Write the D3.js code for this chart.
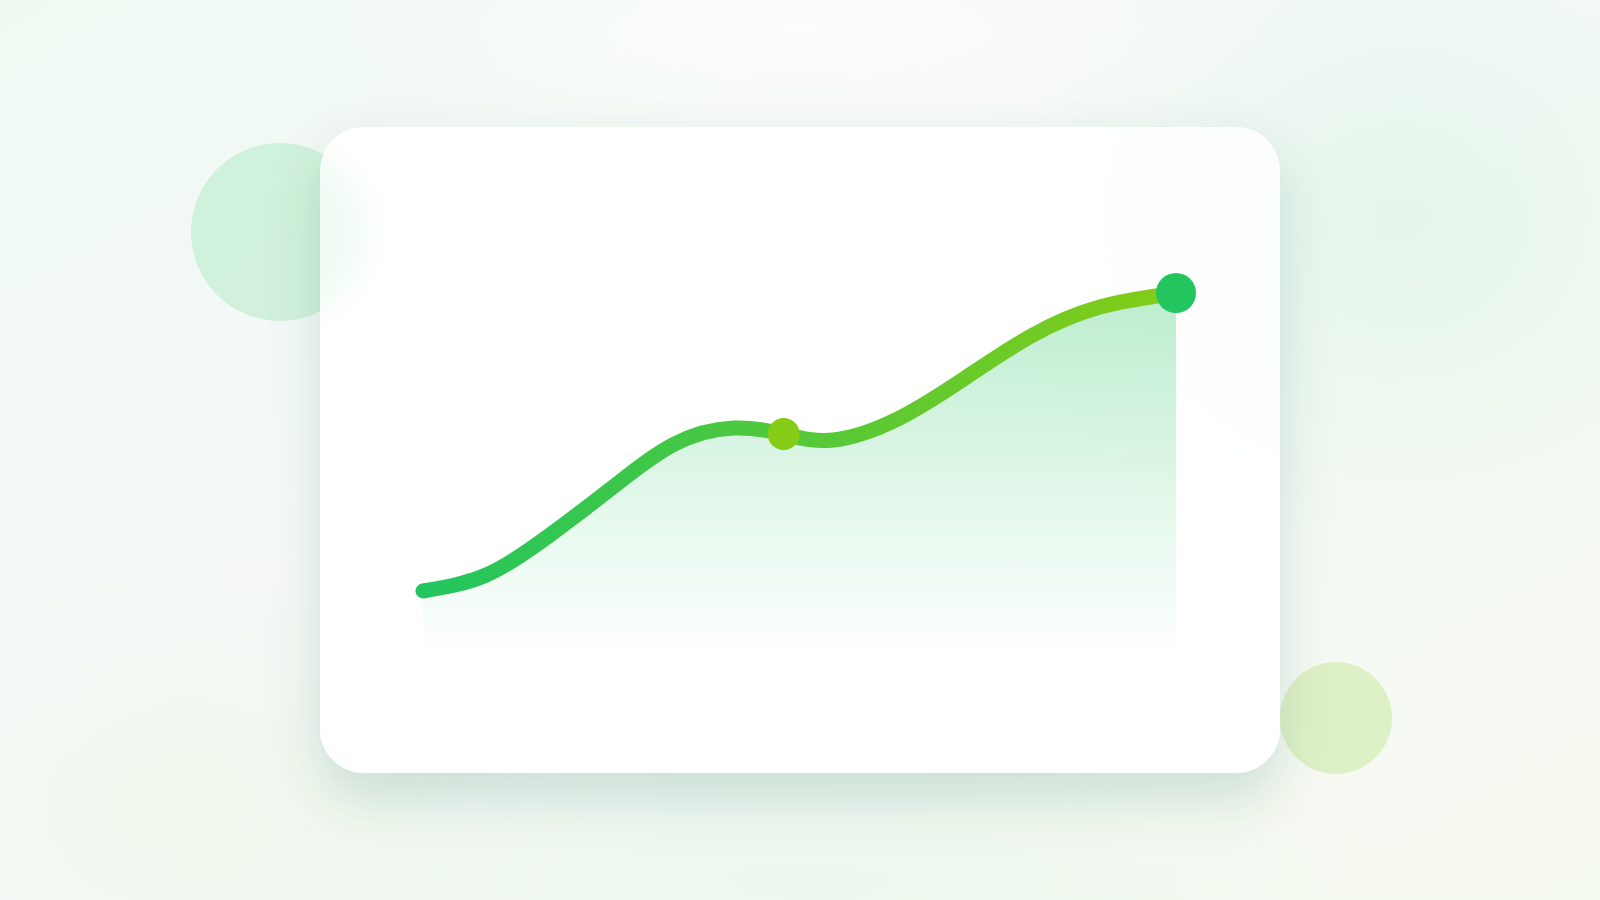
<!DOCTYPE html>
<html>
<head>
<meta charset="utf-8">
<script src="https://cdn.jsdelivr.net/npm/d3@7"></script>
<style>
  html, body { margin: 0; padding: 0; background: #f3f8f5; }
  svg { display: block; }
</style>
</head>
<body>
<div id="chart"></div>
<script>
// values (x on a 0-100 axis, y on a 0-100 axis)
var xValues = [0, 8.4, 16.6, 25, 33.3, 41.2, 47.9, 54.5, 63.3, 72.2, 81, 89.9, 100];
var yValues = [17.25, 21.25, 30.9, 42.9, 53.9, 58, 56.5, 55, 60.5, 70.75, 81.25, 88.25, 91.75];
var highlightIdx = [6, 12];

var svgWidth = 1600;
var svgHeight = 900;

var card = { x: 320, y: 127, w: 960, h: 646, r: 44 };
var plot = { left: 423, right: 1176, top: 260, bottom: 660 };

var data = xValues.map(function(x, i) { return { x: x, y: yValues[i] }; });

var svg = d3.select("#chart")
  .append("svg")
  .attr("width", svgWidth)
  .attr("height", svgHeight);

var defs = svg.append("defs");

// background washes
var bgGrad = defs.append("linearGradient")
  .attr("id", "bgGrad")
  .attr("x1", 0).attr("y1", 0).attr("x2", 1).attr("y2", 1);
bgGrad.append("stop").attr("offset", "0%").attr("stop-color", "#eff9f2");
bgGrad.append("stop").attr("offset", "40%").attr("stop-color", "#f6f9f9");
bgGrad.append("stop").attr("offset", "100%").attr("stop-color", "#f5faf0");

function radial(id, color, op) {
  var g = defs.append("radialGradient").attr("id", id);
  g.append("stop").attr("offset", "0%").attr("stop-color", color).attr("stop-opacity", op);
  g.append("stop").attr("offset", "100%").attr("stop-color", color).attr("stop-opacity", 0);
}
radial("glowTR", "#22c55e", 0.08);
radial("glowBL", "#84cc16", 0.05);
radial("glowBC", "#22c55e", 0.05);
radial("glowTC", "#ffffff", 0.7);

var lineGrad = defs.append("linearGradient")
  .attr("id", "lineGrad")
  .attr("gradientUnits", "userSpaceOnUse")
  .attr("x1", plot.left).attr("y1", 0)
  .attr("x2", plot.right).attr("y2", 0);
lineGrad.append("stop").attr("offset", "0%").attr("stop-color", "#22c55e");
lineGrad.append("stop").attr("offset", "100%").attr("stop-color", "#84cc16");

var areaGrad = defs.append("linearGradient")
  .attr("id", "areaGrad")
  .attr("gradientUnits", "userSpaceOnUse")
  .attr("x1", 0).attr("y1", 290)
  .attr("x2", 0).attr("y2", plot.bottom);
areaGrad.append("stop").attr("offset", "0%").attr("stop-color", "#22c55e").attr("stop-opacity", 0.3);
areaGrad.append("stop").attr("offset", "100%").attr("stop-color", "#22c55e").attr("stop-opacity", 0);

var shadow = defs.append("filter")
  .attr("id", "shadow")
  .attr("x", "-20%").attr("y", "-20%").attr("width", "140%").attr("height", "150%");
shadow.append("feDropShadow")
  .attr("dx", 0).attr("dy", 26)
  .attr("stdDeviation", 26)
  .attr("flood-color", "#1f5a3c")
  .attr("flood-opacity", 0.16);

var blur = defs.append("filter")
  .attr("id", "blur")
  .attr("x", "-50%").attr("y", "-50%").attr("width", "200%").attr("height", "200%");
blur.append("feGaussianBlur").attr("stdDeviation", 12);

defs.append("clipPath").attr("id", "cardClip")
  .append("rect")
  .attr("x", card.x).attr("y", card.y)
  .attr("width", card.w).attr("height", card.h)
  .attr("rx", card.r);

// page background
svg.append("rect").attr("width", svgWidth).attr("height", svgHeight).attr("fill", "url(#bgGrad)");
svg.append("ellipse").attr("cx", 1400).attr("cy", 220).attr("rx", 420).attr("ry", 360).attr("fill", "url(#glowTR)");
svg.append("ellipse").attr("cx", 180).attr("cy", 800).attr("rx", 360).attr("ry", 280).attr("fill", "url(#glowBL)");
svg.append("ellipse").attr("cx", 800).attr("cy", 880).attr("rx", 600).attr("ry", 160).attr("fill", "url(#glowBC)");
svg.append("ellipse").attr("cx", 800).attr("cy", 30).attr("rx", 500).attr("ry", 120).attr("fill", "url(#glowTC)");

// decorative circles behind the card
svg.append("circle")
  .attr("cx", 280).attr("cy", 232).attr("r", 89)
  .attr("fill", "#22c55e").attr("fill-opacity", 0.16);
svg.append("circle")
  .attr("cx", 1336).attr("cy", 718).attr("r", 56)
  .attr("fill", "#84cc16").attr("fill-opacity", 0.2);

// card with a frosted look
svg.append("rect")
  .attr("x", card.x).attr("y", card.y)
  .attr("width", card.w).attr("height", card.h)
  .attr("rx", card.r)
  .attr("fill", "#ffffff")
  .attr("filter", "url(#shadow)");

var frosted = svg.append("g").attr("clip-path", "url(#cardClip)");
frosted.append("circle")
  .attr("cx", 280).attr("cy", 232).attr("r", 89)
  .attr("fill", "#22c55e").attr("fill-opacity", 0.09)
  .attr("filter", "url(#blur)");
frosted.append("ellipse")
  .attr("cx", 1400).attr("cy", 220).attr("rx", 420).attr("ry", 360)
  .attr("fill", "url(#glowTR)").attr("opacity", 0.5);
frosted.append("rect")
  .attr("x", card.x).attr("y", card.y)
  .attr("width", card.w).attr("height", card.h)
  .attr("fill", "#ffffff").attr("fill-opacity", 0.45);

// scales
var xScale = d3.scaleLinear()
  .domain([0, 100])
  .range([plot.left, plot.right]);

var yScale = d3.scaleLinear()
  .domain([0, 100])
  .range([plot.bottom, plot.top]);

var area = d3.area()
  .x(d => xScale(d.x))
  .y0(plot.bottom)
  .y1(d => yScale(d.y))
  .curve(d3.curveNatural);

var line = d3.line()
  .x(d => xScale(d.x))
  .y(d => yScale(d.y))
  .curve(d3.curveNatural);

svg.append("path")
  .datum(data)
  .attr("d", area)
  .attr("fill", "url(#areaGrad)");

svg.append("path")
  .datum(data)
  .attr("d", line)
  .attr("fill", "none")
  .attr("stroke", "url(#lineGrad)")
  .attr("stroke-width", 15)
  .attr("stroke-linecap", "round")
  .attr("stroke-linejoin", "round");

// highlighted points
svg.selectAll(".dot")
  .data(highlightIdx.map(i => data[i]))
  .enter()
  .append("circle")
  .attr("class", "dot")
  .attr("cx", d => xScale(d.x))
  .attr("cy", d => yScale(d.y))
  .attr("r", (d, i) => i === 0 ? 16 : 20)
  .attr("fill", (d, i) => i === 0 ? "#84cc16" : "#22c55e");
</script>
</body>
</html>
